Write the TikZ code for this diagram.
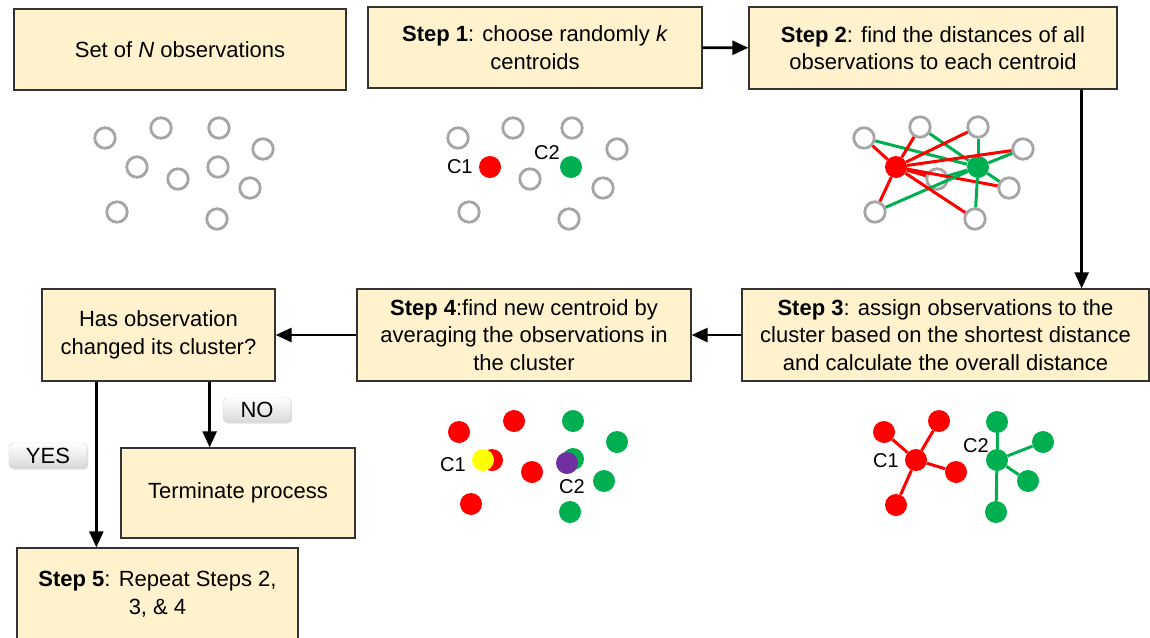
\documentclass[tikz,border=0pt]{standalone}
\usepackage{fontspec}
\setmainfont{Liberation Sans}
\usepackage{xcolor}
\usepackage{tikz}
\usetikzlibrary{arrows.meta,positioning,shadows}

\definecolor{boxfill}{HTML}{FFF2CC}
\definecolor{obsgray}{HTML}{A6A6A6}
\definecolor{cred}{HTML}{FF0000}
\definecolor{cgreen}{HTML}{00B050}
\definecolor{cpurple}{HTML}{7030A0}
\definecolor{cyellow}{HTML}{FFFF00}

\begin{document}
\begin{tikzpicture}[x=1pt, y=-1pt,
    stepbox/.style={
        rectangle, draw=black!80, fill=boxfill, line width=1.3pt,
        align=center, inner sep=2pt,
        font=\fontsize{22}{27.5}\selectfont
    },
    btn/.style={
        rectangle, rounded corners=4pt, draw=gray!35, top color=white,
        bottom color=gray!30, inner sep=0pt,
        drop shadow={opacity=0.25, shadow xshift=1pt, shadow yshift=-1.5pt},
        font=\fontsize{22}{22}\selectfont
    },
    arr/.style={-{Triangle[length=16pt, width=14pt]}, line width=2.6pt, black},
    obs/.style={circle, draw=obsgray, fill=white, line width=2.8pt,
        minimum size=20.5pt, inner sep=0pt},
    dot/.style={circle, minimum size=22pt, inner sep=0pt},
    redline/.style={cred, line width=3pt},
    greenline/.style={cgreen, line width=3pt},
    clabel/.style={font=\fontsize{20}{20}\selectfont, inner sep=0pt}
]
    \useasboundingbox (0,0) rectangle (1150,637);

    % Flow boxes
    \node[stepbox, minimum width=332pt, minimum height=81pt] (obsset) at (180,49.5)
        {Set of \textit{N} observations};
    \node[stepbox, minimum width=334pt, minimum height=81pt] (step1) at (535,47.5)
        {\textbf{Step 1}: choose randomly \textit{k}\\centroids};
    \node[stepbox, minimum width=368pt, minimum height=82pt] (step2) at (933,48)
        {\textbf{Step 2}: find the distances of all\\observations to each centroid};
    \node[stepbox, minimum width=407pt, minimum height=92pt] (step3) at (945.5,335)
        {\textbf{Step 3}: assign observations to the\\cluster based on the shortest distance\\and calculate the overall distance};
    \node[stepbox, minimum width=334pt, minimum height=92pt] (step4) at (524,335)
        {\textbf{Step 4}:find new centroid by\\averaging the observations in\\the cluster};
    \node[stepbox, minimum width=233pt, minimum height=92pt] (changed) at (158.5,335)
        {Has observation\\changed its cluster?};
    \node[stepbox, minimum width=234pt, minimum height=90pt] (term) at (238,493)
        {Terminate process};
    \node[stepbox, minimum width=281pt, minimum height=92pt] (step5) at (157.5,594)
        {\textbf{Step 5}: Repeat Steps 2,\\3, \& 4};

    % Answer buttons
    \node[btn, minimum width=68pt, minimum height=24pt] (nobtn) at (257,410) {NO};
    \node[btn, minimum width=78pt, minimum height=25pt] (yesbtn) at (48,455.5) {YES};

    % Flow arrows
    \draw[arr] (step1) -- (step2);
    \draw[arr] ([xshift=-36pt]step2.south east) -- ([xshift=-36pt]step2.south east |- step3.north);
    \draw[arr] (step3) -- (step4);
    \draw[arr] (step4) -- (changed);
    \draw[arr] ([xshift=55pt]changed.south west) -- ([xshift=55pt]changed.south west |- step5.north);
    \draw[arr] ([xshift=-66pt]changed.south east) -- ([xshift=-66pt]changed.south east |- term.north);

    % Panel: N observations
    \foreach \x/\y [count=\i] in {105/138, 161/128, 219/128, 263/149, 137/167,
                                  178/179, 218/167, 250/188, 117/212, 217/219}
        \node[obs] (p\i) at (\x,\y) {};

    % Panel: random centroids
    \foreach \x/\y [count=\i] in {458/138, 513/128, 572/128, 617/149,
                                  530/179, 603/188, 469/212, 569/219}
        \node[obs] (q\i) at (\x,\y) {};
    \node[dot, fill=cred] (qc1) at (490,167) {};
    \node[dot, fill=cgreen] (qc2) at (571,167) {};
    \node[clabel, left=6pt of qc1] (qc1lbl) {C1};
    \node[clabel] (qc2lbl) at (547,153) {C2};

    % Panel: distances to centroids
    \foreach \x/\y [count=\i] in {864/138, 920/127, 978/127, 1023/149,
                                  937/179, 1009/188, 875/212, 975/219}
        \node[obs] (r\i) at (\x,\y) {};
    \node[dot, fill=cred] (rc1) at (896,167) {};
    \node[dot, fill=cgreen] (rc2) at (978,167) {};
    \foreach \i in {1,...,8} {
        \draw[redline] (rc1) -- (r\i);
        \draw[greenline] (rc2) -- (r\i);
    }

    % Panel: new centroids
    \foreach \x/\y [count=\i] in {459/432, 514/421, 492/460, 532/472, 471/504}
        \node[dot, fill=cred] (s\i) at (\x,\y) {};
    \foreach \x/\y [count=\i] in {573/421, 617/442, 573/459, 604/481, 570/512}
        \node[dot, fill=cgreen] (t\i) at (\x,\y) {};
    \node[dot, fill=cyellow] (sc1) at (483,460) {};
    \node[dot, fill=cpurple] (tc2) at (567,463) {};
    \node[clabel] (sc1lbl) at (453,465) {C1};
    \node[clabel] (tc2lbl) at (572,487) {C2};

    % Panel: assigned clusters
    \node[dot, fill=cred] (uc1) at (916,460) {};
    \node[dot, fill=cgreen] (vc2) at (997,460) {};
    \foreach \x/\y [count=\i] in {884/432, 939/421, 956/472, 896/505} {
        \node[dot, fill=cred] (u\i) at (\x,\y) {};
        \draw[redline] (uc1) -- (u\i);
    }
    \foreach \x/\y [count=\i] in {997/422, 1043/442, 1028/481, 996/512} {
        \node[dot, fill=cgreen] (v\i) at (\x,\y) {};
        \draw[greenline] (vc2) -- (v\i);
    }
    \node[clabel] (uc1lbl) at (886,461) {C1};
    \node[clabel] (vc2lbl) at (976,446) {C2};
\end{tikzpicture}
\end{document}
